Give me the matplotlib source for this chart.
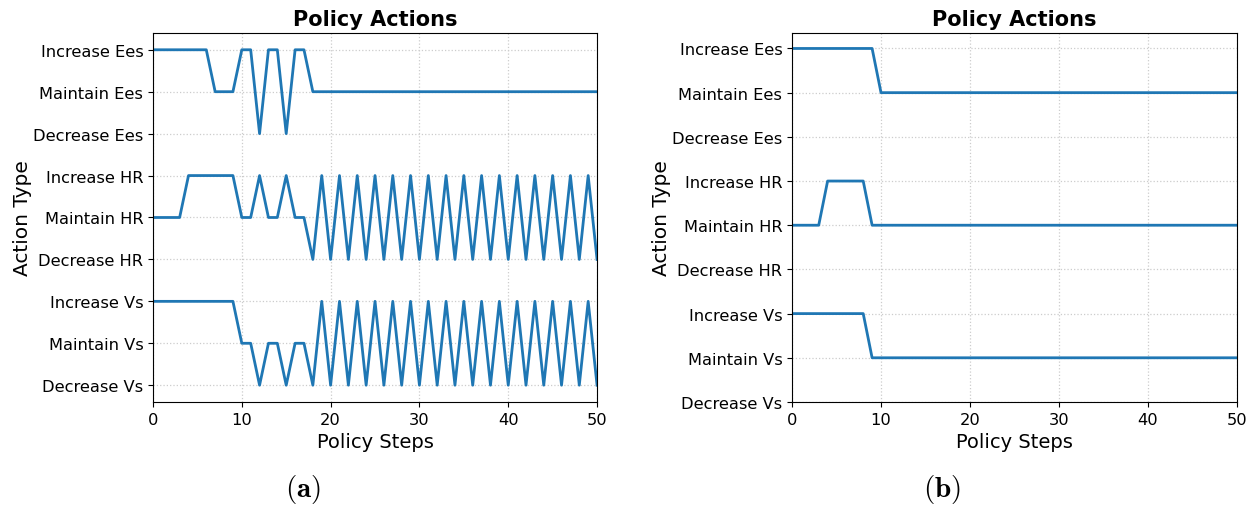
import matplotlib
matplotlib.use("Agg")
import matplotlib.pyplot as plt
import numpy as np

plt.rcParams['mathtext.fontset'] = 'cm'

# Action labels, bottom to top (index = y level)
action_labels = [
    "Decrease Vs", "Maintain Vs", "Increase Vs",
    "Decrease HR", "Maintain HR", "Increase HR",
    "Decrease Ees", "Maintain Ees", "Increase Ees",
]

steps = list(range(51))

# Policy (a): per-step choice for each control (0=decrease, 1=maintain, 2=increase)
ees_a = [2] * 7 + [1, 1, 1] + [2, 2, 0, 2, 2, 0, 2, 2] + [1] * 33
hr_a = [1] * 4 + [2] * 6 + [1, 1, 2, 1, 1, 2, 1, 1] + [0, 2] * 16 + [0]
vs_a = [2] * 10 + [1, 1, 0, 1, 1, 0, 1, 1] + [0, 2] * 16 + [0]

# Policy (b)
ees_b = [2] * 10 + [1] * 41
hr_b = [1] * 4 + [2] * 5 + [1] * 42
vs_b = [2] * 9 + [1] * 42

# Each control occupies its own band of three levels
offset = {"vs": 0, "hr": 3, "ees": 6}


def series(ees, hr, vs):
    return [np.array(vs) + offset["vs"],
            np.array(hr) + offset["hr"],
            np.array(ees) + offset["ees"]]


fig = plt.figure(figsize=(12.53, 5.06), dpi=100)
ax_a = fig.add_axes([0.1221, 0.2036, 0.3544, 0.7292])
ax_b = fig.add_axes([0.6321, 0.2036, 0.3551, 0.7292])

panels = [
    (ax_a, series(ees_a, hr_a, vs_a), (-0.4, 8.4), "(a)", 0.242),
    (ax_b, series(ees_b, hr_b, vs_b), (0, 8.35), "(b)", 0.752),
]

for ax, lines, ylim, tag, cap_x in panels:
    for y in lines:
        ax.plot(steps, y, color="#1f77b4", linewidth=2)
    ax.set_xlim(0, 50)
    ax.set_ylim(*ylim)
    ax.set_yticks(range(len(action_labels)))
    ax.set_yticklabels(action_labels, fontsize=11.7)
    ax.set_xticks([0, 10, 20, 30, 40, 50])
    ax.tick_params(axis="x", labelsize=11.7)
    ax.grid(True, linestyle=":", color="#cccccc", linewidth=0.9)
    ax.set_title("Policy Actions", fontsize=15, fontweight="bold")
    ax.set_xlabel("Policy Steps", fontsize=14)
    ax.set_ylabel("Action Type", fontsize=14.5, labelpad=1)
    fig.text(cap_x, 0.032, r"$\mathbf{" + tag + "}$",
             ha="center", va="center", fontsize=21)

fig.savefig("out.png", dpi=100)
